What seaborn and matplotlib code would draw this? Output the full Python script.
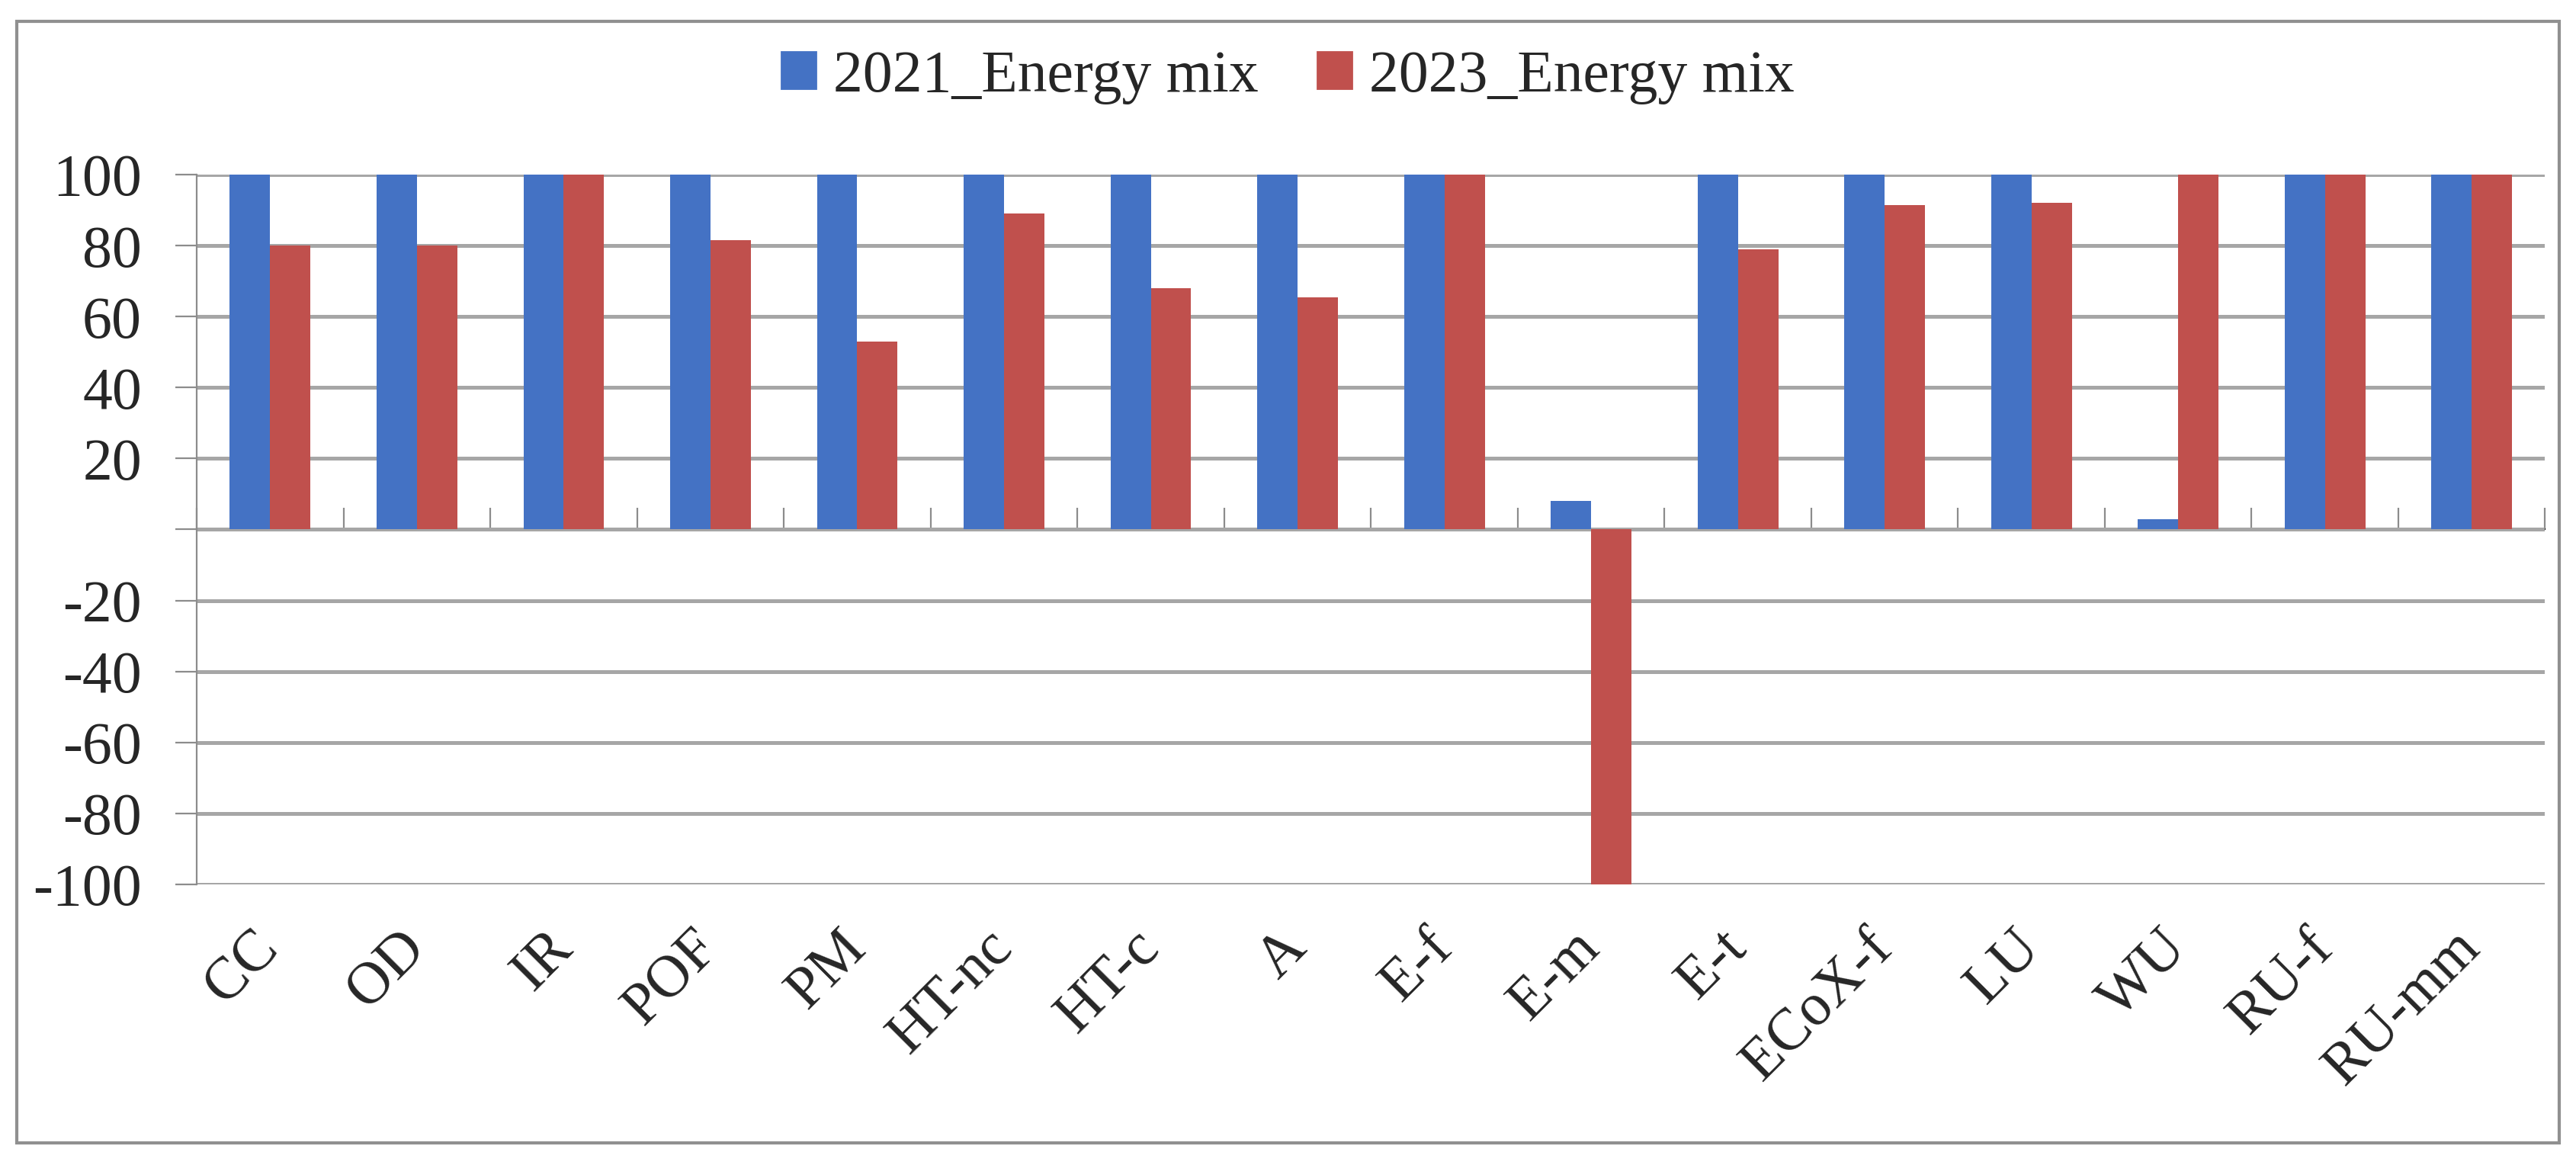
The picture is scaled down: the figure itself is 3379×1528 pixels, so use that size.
import matplotlib
matplotlib.use("Agg")
import matplotlib.pyplot as plt
import numpy as np
import pandas as pd
import seaborn as sns

categories = ["CC", "OD", "IR", "POF", "PM", "HT-nc", "HT-c", "A", "E-f",
              "E-m", "E-t", "ECoX-f", "LU", "WU", "RU-f", "RU-mm"]
mix_2021 = [100, 100, 100, 100, 100, 100, 100, 100, 100,
            8, 100, 100, 100, 3, 100, 100]
mix_2023 = [80, 80, 100, 81.5, 53, 89, 68, 65.5, 100,
            -100, 79, 91.5, 92, 100, 100, 100]
series = ["2021_Energy mix", "2023_Energy mix"]
colors = {"2021_Energy mix": "#4472C4", "2023_Energy mix": "#C0504D"}
y_ticks = list(range(-100, 101, 20))

df = pd.DataFrame({
    "Category": categories * 2,
    "Series": [series[0]] * len(categories) + [series[1]] * len(categories),
    "Value": mix_2021 + mix_2023,
})

sns.set_style("white")
plt.rcParams["font.family"] = ["Liberation Serif", "DejaVu Serif"]
plt.rcParams["font.size"] = 28

fig = plt.figure(figsize=(3379 / 200, 1528 / 200), dpi=200)
ax = fig.add_axes([0.0764, 0.241, 0.988 - 0.0764, 0.850 - 0.241])

sns.barplot(data=df, x="Category", y="Value", hue="Series", palette=colors,
            width=0.55, saturation=1, linewidth=0, ax=ax,
            order=categories, hue_order=series)

grey = "#A6A6A6"
ax.set_ylim(-100, 100)
ax.set_xlim(-0.5, len(categories) - 0.5)
ax.set_yticks(y_ticks)
ax.set_yticklabels(["" if t == 0 else str(t) for t in y_ticks])
ax.yaxis.grid(True, color=grey, linewidth=1.8)
ax.set_axisbelow(True)
ax.set_xlabel("")
ax.set_ylabel("")

for side in ["top", "right", "bottom"]:
    ax.spines[side].set_visible(False)
ax.spines["left"].set_color("#8C8C8C")
ax.spines["left"].set_linewidth(0.8)
ax.tick_params(axis="y", left=True, length=10, width=0.8, color="#8C8C8C",
               pad=16, labelsize=28)
ax.tick_params(axis="x", bottom=False, length=0, pad=26, labelsize=28)
for lbl in ax.get_xticklabels():
    lbl.set_rotation(45)
    lbl.set_ha("right")
    lbl.set_va("center")
    lbl.set_rotation_mode("anchor")

# zero line with category boundary ticks
zero = ax.secondary_xaxis(0.5)
zero.set_xticks(np.arange(-0.5, len(categories), 1.0))
zero.set_xticklabels([])
zero.tick_params(direction="out", length=10, width=0.8, color="#8C8C8C")
zero.spines["bottom"].set_color(grey)
zero.spines["bottom"].set_linewidth(1.8)

ax.legend_.remove()
handles = [plt.Rectangle((0, 0), 1, 1, color=colors[s]) for s in series]
fig.legend(handles, series, loc="center", bbox_to_anchor=(0.5, 0.934), ncol=2,
           frameon=False, fontsize=28, handlelength=0.57, handleheight=0.57,
           handletextpad=0.3, columnspacing=1.0)

border = plt.Rectangle((0.0065, 0.019), 0.987, 0.9627, transform=fig.transFigure,
                       fill=False, edgecolor="#909090", linewidth=1.5)
fig.patches.append(border)

fig.savefig("out.png", dpi=200)
